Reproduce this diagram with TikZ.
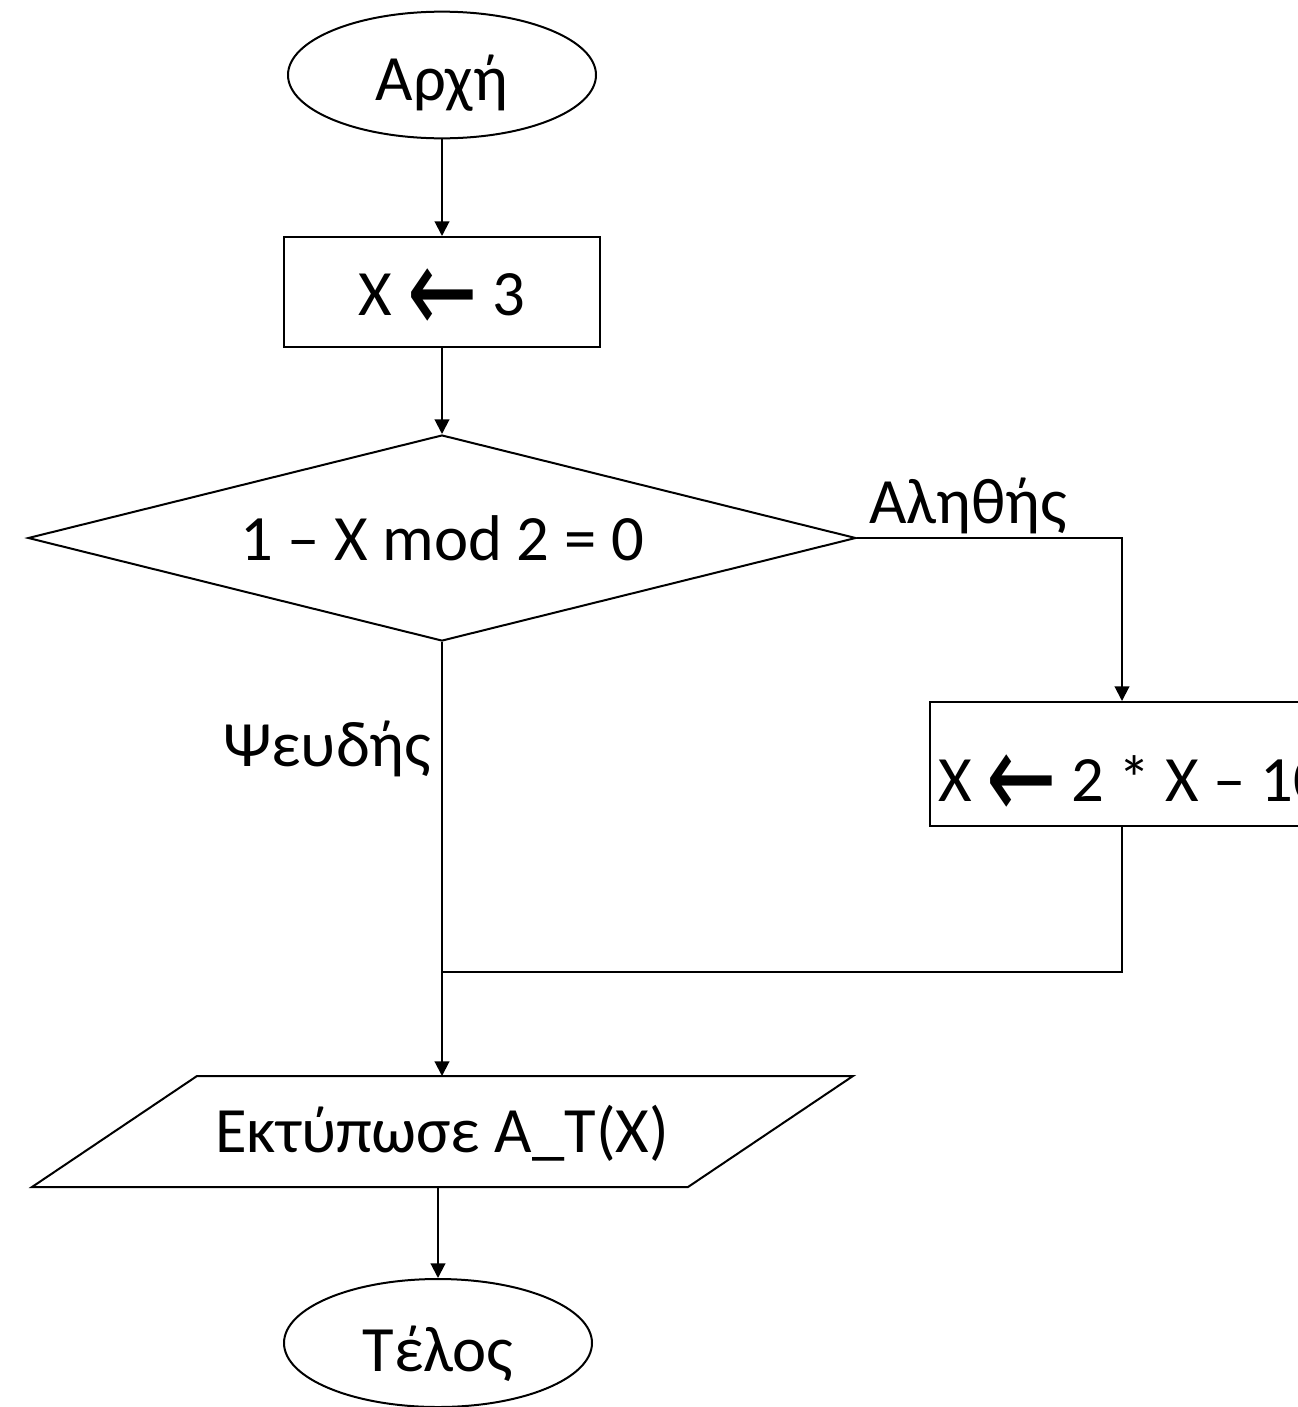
\documentclass[tikz,border=0pt]{standalone}
\usepackage{fontspec}
\usepackage{graphicx}
\setmainfont{Carlito}
\newfontfamily\arrowfont{DejaVu Sans}
\newcommand{\assignarrow}{{\arrowfont\raisebox{-14pt}{\scalebox{1.3}[1.9]{←}}}}
\usetikzlibrary{shapes.geometric,arrows.meta}
\begin{document}
\begin{tikzpicture}[x=0.75pt,y=-0.75pt,
  line width=1.5pt,
  every node/.style={font=\fontsize{48.5}{56}\selectfont, inner sep=0pt},
  term/.style={draw, ellipse, minimum width=231pt, minimum height=95pt},
  proc/.style={draw, rectangle},
  dec/.style={draw, diamond, aspect=4, minimum width=621pt, minimum height=154.5pt},
  flow/.style={-{Triangle[width=11pt,length=11pt]}}]
\useasboundingbox (0,0) rectangle (1298,1407);
\fill[white] (0,0) rectangle (1298,1407);
\clip (0,0) rectangle (1298,1407);
% nodes
\node[term, text height=37.5pt, text depth=0pt] (start) at (442,75) {Αρχή};
\node[proc, minimum width=237pt, minimum height=82.5pt, text height=34.5pt, text depth=0pt] (a1) at (442,292) {X \assignarrow{} 3};
\node[dec, text height=33pt, text depth=0pt] (cond) at (442,538) {1 – X mod 2 = 0};
\node[proc, minimum width=288pt, minimum height=93pt] (a2) at (1122,764) {};
\node[anchor=base west] (a2t) at (937,801) {X \assignarrow{} 2 * X – 10};
\node[anchor=base] (out) at (442,1152) {Εκτύπωσε A\_T(X)};
\draw (197,1076) -- (853,1076) -- (688,1187) -- (32,1187) -- cycle;
\coordinate (outtop) at (442,1076);
\coordinate (outbot) at (438,1187);
\node[term, minimum height=96pt, text height=43pt, text depth=0pt] (end) at (438,1343) {Τέλος};
\node[anchor=base west] (yes) at (868,523) {Αληθής};
\node[anchor=base west] (no) at (222,766) {Ψευδής};
% connectors
\draw[flow] (start.south) -- (a1.north);
\draw[flow] (a1.south) -- (cond.north);
\coordinate (tc) at (a2.north |- cond.east);
\draw[flow] (cond.east) -- (tc) -- (a2.north);
\coordinate (j) at (442,972);
\draw (cond.south) -- (j);
\draw (a2.south) -- (a2.south |- j) -- (j);
\draw[flow] (j) -- (outtop);
\draw[flow] (outbot) -- (end.north);
\end{tikzpicture}
\end{document}
